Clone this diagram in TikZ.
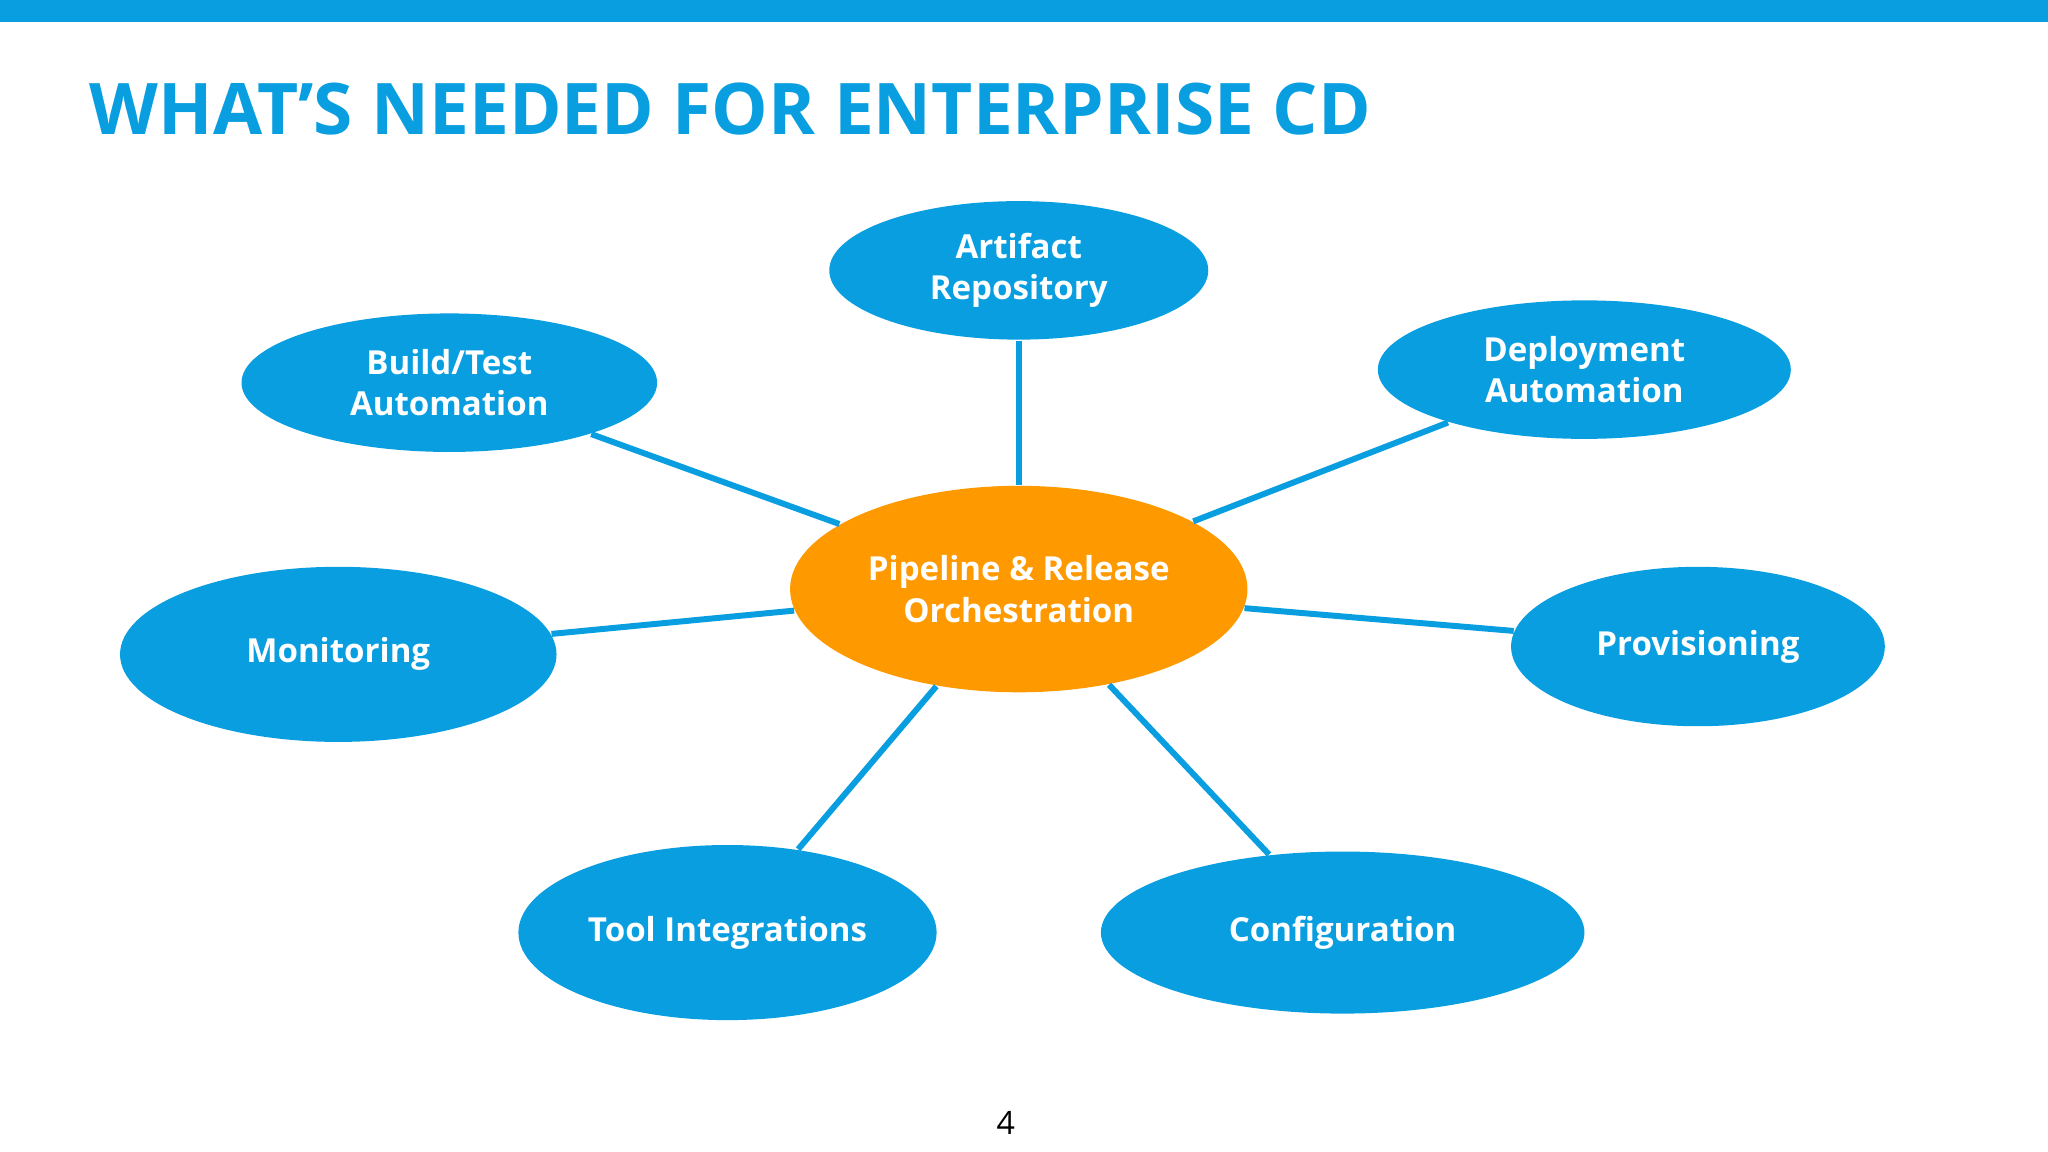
\documentclass[tikz,border=0pt]{standalone}
\usepackage{fontspec}
\setmainfont{Open Sans}
\usetikzlibrary{shapes.geometric}
\definecolor{cblue}{RGB}{8,158,224}
\definecolor{corange}{RGB}{255,153,0}
\tikzset{
 bub/.style={ellipse,fill=cblue,text=white,font=\fontsize{7.2pt}{9pt}\selectfont\bfseries,align=center,inner sep=0pt},
 link/.style={draw=cblue,line width=1.3pt}
}
\begin{document}
\begin{tikzpicture}[x=0.01cm,y=-0.01cm]
\useasboundingbox (0,0) rectangle (1568,882);
\fill[cblue] (0,0) rectangle (1568,17);
\node[anchor=base west,text=cblue,font=\fontsize{15.5pt}{18pt}\selectfont\bfseries,inner sep=0pt] (title) at (68,103) {WHAT’S NEEDED FOR ENTERPRISE CD};
\node[bub,fill=corange,minimum width=3.5cm,minimum height=1.58cm] (c) at (780,451) {Pipeline \& Release\\Orchestration};
\node[bub,minimum width=2.9cm,minimum height=1.06cm] (a) at (780,207) {Artifact\\Repository};
\node[bub,minimum width=3.18cm,minimum height=1.06cm] (b) at (344,293) {Build/Test\\Automation};
\node[bub,minimum width=3.16cm,minimum height=1.06cm] (d) at (1213,283) {Deployment\\Automation};
\node[bub,minimum width=3.34cm,minimum height=1.34cm] (m) at (259,501) {Monitoring};
\node[bub,minimum width=2.86cm,minimum height=1.22cm] (p) at (1300,495) {Provisioning};
\node[bub,minimum width=3.2cm,minimum height=1.34cm] (t) at (557,714) {Tool Integrations};
\node[bub,minimum width=3.7cm,minimum height=1.24cm] (g) at (1028,714) {Configuration};
\draw[link] (a) -- (c);
\draw[link] (b) -- (c);
\draw[link] (d) -- (c);
\draw[link] (m) -- (c);
\draw[link] (p) -- (c);
\draw[link] (t) -- (c);
\draw[link] (g) -- (c);
\node[font=\fontsize{7pt}{8pt}\selectfont] (pn) at (770,860) {4};
\end{tikzpicture}
\end{document}
